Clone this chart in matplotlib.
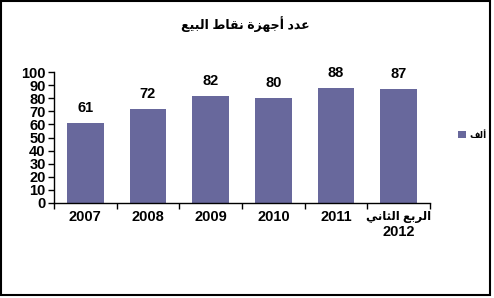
import numpy as np
import matplotlib
matplotlib.use('Agg')
import matplotlib.pyplot as plt
from matplotlib.patches import Rectangle

plt.rcParams['font.family'] = ['Liberation Sans', 'DejaVu Sans']
plt.rcParams['font.weight'] = 'bold'

# data
years = ['2007', '2008', '2009', '2010', '2011', 'الربع الثاني\n2012']
values = [61, 72, 82, 80, 88, 87]
title = 'عدد أجهزة نقاط البيع'
legend_label = 'ألف'
bar_color = '#68689C'

# matplotlib has no arabic shaping, so pick presentation forms by hand
# (isolated, final, initial, medial)
FORMS = {
    'ا': (0xFE8D, 0xFE8E), 'أ': (0xFE83, 0xFE84),
    'ب': (0xFE8F, 0xFE90, 0xFE91, 0xFE92), 'ة': (0xFE93, 0xFE94),
    'ث': (0xFE99, 0xFE9A, 0xFE9B, 0xFE9C), 'ج': (0xFE9D, 0xFE9E, 0xFE9F, 0xFEA0),
    'د': (0xFEA9, 0xFEAA), 'ر': (0xFEAD, 0xFEAE), 'ز': (0xFEAF, 0xFEB0),
    'ط': (0xFEC1, 0xFEC2, 0xFEC3, 0xFEC4), 'ع': (0xFEC9, 0xFECA, 0xFECB, 0xFECC),
    'ف': (0xFED1, 0xFED2, 0xFED3, 0xFED4), 'ق': (0xFED5, 0xFED6, 0xFED7, 0xFED8),
    'ل': (0xFEDD, 0xFEDE, 0xFEDF, 0xFEE0), 'ن': (0xFEE5, 0xFEE6, 0xFEE7, 0xFEE8),
    'ه': (0xFEE9, 0xFEEA, 0xFEEB, 0xFEEC), 'ي': (0xFEF1, 0xFEF2, 0xFEF3, 0xFEF4),
}

def shape_line(s):
    if not any(c in FORMS for c in s):
        return s
    out = []
    for i, c in enumerate(s):
        if c not in FORMS:
            out.append(c)
            continue
        f = FORMS[c]
        prev = i > 0 and s[i - 1] in FORMS and len(FORMS[s[i - 1]]) == 4
        nxt = len(f) == 4 and i + 1 < len(s) and s[i + 1] in FORMS
        if prev and nxt:
            k = 3
        elif nxt:
            k = 2
        elif prev:
            k = 1
        else:
            k = 0
        out.append(chr(f[k]))
    return ''.join(out[::-1])

def is_arabic(s):
    return any(c in FORMS for c in s)

fig = plt.figure(figsize=(4.94, 2.98), dpi=100)
W, H = 494, 298
ax = fig.add_axes([54 / W, 1 - 203 / H, 376 / W, 131 / H])

x = np.arange(len(values))
ax.bar(x, values, width=0.59, color=bar_color, label=shape_line(legend_label))
for xi, v in zip(x, values):
    ax.text(xi, v + 6, str(v), ha='center', va='bottom', fontsize=10.5, fontweight='bold')

ax.set_xlim(-0.5, len(values) - 0.5)
ax.set_ylim(0, 100)
ax.set_yticks(range(0, 101, 10))
ax.tick_params(axis='y', labelsize=10.5, length=4, pad=2, width=1)
ax.set_xticks([])
ax.set_xticks(np.arange(-0.5, len(values)), minor=True)
ax.tick_params(axis='x', which='minor', length=4, width=1, labelbottom=False)

# category labels, one text per line so arabic can get its own size
trans = ax.get_xaxis_transform()
for xi, lab in zip(x, years):
    for j, line in enumerate(lab.split('\n')):
        fs = 8.5 if is_arabic(line) else 10.5
        ax.text(xi, -14 / 131 - j * 15 / 131, shape_line(line), transform=trans,
                ha='center', va='center', fontsize=fs, fontweight='bold')

for s in ['top', 'right']:
    ax.spines[s].set_visible(False)
for s in ['left', 'bottom']:
    ax.spines[s].set_linewidth(1)

fig.text(245 / W, 1 - 24 / H, shape_line(title), ha='center', va='center', fontsize=9, fontweight='bold')

fig.legend(loc='center left', bbox_to_anchor=(453 / W, 1 - 135 / H), frameon=False,
           fontsize=6.5, handlelength=0.9, handleheight=0.9, handletextpad=0.4,
           borderpad=0, markerfirst=True)

fig.patches.append(Rectangle((1 / W, 1 - 295 / H), 489 / W, 294 / H, transform=fig.transFigure,
                             fill=False, edgecolor='black', linewidth=1.5))

fig.savefig('out.png', dpi=100)
